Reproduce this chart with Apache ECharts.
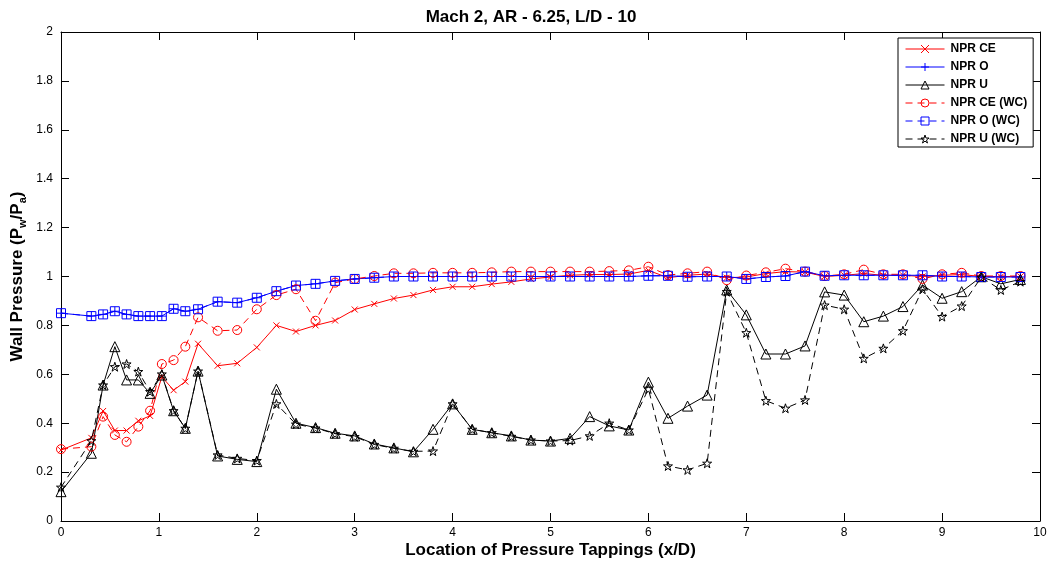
<!DOCTYPE html>
<html>
<head>
<meta charset="utf-8">
<title>Mach 2, AR - 6.25, L/D - 10</title>
<script src="https://cdn.jsdelivr.net/npm/echarts@6/dist/echarts.min.js"></script>
<style>
  html, body { margin: 0; padding: 0; background: #fff; }
  #chart { width: 1047px; height: 561px; }
</style>
</head>
<body>
<div id="chart"></div>
<script>
// Tapping locations along the wall (x/D)
const xPositions = [0, 0.31, 0.43, 0.55, 0.67, 0.79, 0.91, 1.03, 1.15, 1.27, 1.4,
  1.6, 1.8, 2.0, 2.2, 2.4, 2.6, 2.8, 3.0, 3.2, 3.4, 3.6, 3.8, 4.0, 4.2, 4.4,
  4.6, 4.8, 5.0, 5.2, 5.4, 5.6, 5.8, 6.0, 6.2, 6.4, 6.6, 6.8, 7.0, 7.2, 7.4,
  7.6, 7.8, 8.0, 8.2, 8.4, 8.6, 8.8, 9.0, 9.2, 9.4, 9.6, 9.8];

// Wall pressure ratio Pw/Pa at each tapping
const nprCE = [0.29, 0.34, 0.45, 0.37, 0.37, 0.41, 0.43, 0.59, 0.535, 0.57, 0.725,
  0.635, 0.645, 0.71, 0.80, 0.775, 0.80, 0.82, 0.865, 0.888, 0.91, 0.924, 0.945, 0.958, 0.958, 0.969,
  0.978, 0.99, 0.998, 1.005, 1.008, 1.008, 1.01, 1.025, 0.995, 1.005, 1.01, 0.995, 0.998, 1.012, 1.02,
  1.018, 1.0, 1.005, 1.012, 1.005, 1.005, 1.0, 1.005, 1.008, 1.0, 1.0, 1.0];

const nprO = [0.85, 0.838, 0.845, 0.858, 0.845, 0.838, 0.838, 0.838, 0.868, 0.858, 0.866,
  0.897, 0.893, 0.913, 0.94, 0.963, 0.97, 0.982, 0.99, 0.995, 1.0, 1.0, 1.0, 1.0, 1.0, 1.0,
  1.0, 1.0, 1.0, 1.0, 1.0, 1.0, 1.0, 1.003, 1.003, 0.999, 1.0, 1.0, 0.99, 0.998, 1.002,
  1.02, 1.003, 1.005, 1.005, 1.005, 1.005, 1.005, 1.0, 1.0, 0.998, 0.998, 0.998];

const nprU = [0.12, 0.277, 0.556, 0.713, 0.577, 0.577, 0.522, 0.597, 0.451, 0.379, 0.613,
  0.266, 0.252, 0.243, 0.539, 0.40, 0.382, 0.359, 0.348, 0.315, 0.299, 0.283, 0.375, 0.479, 0.375, 0.361,
  0.348, 0.331, 0.327, 0.338, 0.427, 0.389, 0.372, 0.568, 0.42, 0.47, 0.515, 0.945, 0.843, 0.683, 0.683,
  0.716, 0.937, 0.924, 0.815, 0.838, 0.877, 0.965, 0.911, 0.938, 0.999, 0.97, 0.988];

const nprCEwc = [0.294, 0.304, 0.427, 0.352, 0.324, 0.386, 0.451, 0.642, 0.658, 0.713, 0.833,
  0.778, 0.781, 0.866, 0.924, 0.948, 0.819, 0.975, 0.99, 1.002, 1.013, 1.013, 1.015, 1.015, 1.015, 1.017,
  1.02, 1.02, 1.02, 1.02, 1.02, 1.022, 1.025, 1.04, 1.006, 1.013, 1.02, 0.985, 1.004, 1.017, 1.032,
  1.02, 1.002, 1.009, 1.028, 1.009, 1.009, 0.99, 1.009, 1.015, 1.002, 1.002, 1.002];

const nprOwc = [0.85, 0.838, 0.845, 0.858, 0.845, 0.838, 0.838, 0.838, 0.868, 0.858, 0.866,
  0.897, 0.893, 0.913, 0.94, 0.963, 0.97, 0.982, 0.99, 0.995, 1.0, 1.0, 1.0, 1.0, 1.0, 1.0,
  1.0, 1.0, 1.0, 1.0, 1.0, 1.0, 1.0, 1.003, 1.003, 0.999, 1.0, 1.0, 0.99, 0.998, 1.002,
  1.02, 1.003, 1.005, 1.005, 1.005, 1.005, 1.005, 1.0, 1.0, 0.998, 0.998, 0.998];

const nprUwc = [0.138, 0.328, 0.556, 0.631, 0.642, 0.611, 0.529, 0.601, 0.451, 0.379, 0.613,
  0.27, 0.256, 0.247, 0.479, 0.396, 0.38, 0.357, 0.345, 0.313, 0.297, 0.285, 0.286, 0.479, 0.375, 0.361,
  0.346, 0.331, 0.327, 0.329, 0.348, 0.40, 0.372, 0.54, 0.225, 0.209, 0.236, 0.938, 0.77, 0.492, 0.461,
  0.495, 0.883, 0.866, 0.665, 0.706, 0.778, 0.948, 0.836, 0.879, 0.997, 0.945, 0.979];

const xTicks = { min: 0, max: 10, interval: 1 };
const yTicks = { min: 0, max: 2, interval: 0.2 };

const FONT = '"Liberation Sans", Arial, Helvetica, sans-serif';

// Hollow marker outlines
const MARK = {
  cross: 'path://M0,0L10,10M10,0L0,10',
  plus: 'path://M5,0L5,10M0,5L10,5',
  triangle: 'path://M5,0L10,9L0,9Z',
  circle: 'path://M10,5A5,5 0 1,1 0,5A5,5 0 1,1 10,5Z',
  square: 'path://M0,0L10,0L10,10L0,10Z',
  star: 'path://M5,0L6.2,3.6L10,3.6L6.9,5.9L8.1,9.5L5,7.3L1.9,9.5L3.1,5.9L0,3.6L3.8,3.6Z'
};

const CLEAR = 'rgba(0,0,0,0)';

function makeSeries(name, values, color, symbol, size, dashed) {
  return {
    name: name,
    type: 'line',
    data: xPositions.map((x, i) => [x, values[i]]),
    symbol: MARK[symbol],
    symbolSize: size,
    showAllSymbol: true,
    color: color,
    lineStyle: { color: color, width: 1, type: dashed ? [7, 5] : 'solid' },
    itemStyle: { color: CLEAR, borderColor: color, borderWidth: 1 },
    emphasis: { disabled: true },
    animation: false,
    z: 3
  };
}

const series = [
  makeSeries('NPR CE', nprCE, '#ff0000', 'cross', 6, false),
  makeSeries('NPR O', nprO, '#0000ff', 'plus', 9, false),
  makeSeries('NPR U', nprU, '#000000', 'triangle', 10, false),
  makeSeries('NPR CE (WC)', nprCEwc, '#ff0000', 'circle', 9, true),
  makeSeries('NPR O (WC)', nprOwc, '#0000ff', 'square', 9, true),
  makeSeries('NPR U (WC)', nprUwc, '#000000', 'star', 9, true)
];

// Legend entries: thin line with a hollow marker
const legendData = series.map(s => ({
  name: s.name,
  itemStyle: { color: CLEAR, borderColor: s.color, borderWidth: 1 },
  lineStyle: { color: s.color, width: 1, type: s.lineStyle.type }
}));

const axisCommon = {
  axisLine: { show: true, onZero: false, lineStyle: { color: '#000', width: 1 } },
  axisTick: { show: true, inside: true, length: 8, lineStyle: { color: '#000' } },
  splitLine: { show: false }
};

const chart = echarts.init(document.getElementById('chart'), null, { renderer: 'canvas' });
chart.setOption({
  animation: false,
  backgroundColor: '#fff',
  title: {
    text: 'Mach 2, AR - 6.25, L/D - 10',
    left: 526,
    top: 4,
    textAlign: 'center',
    textStyle: { fontFamily: FONT, fontSize: 17, fontWeight: 'bold', color: '#000' }
  },
  grid: { left: 61, right: 7, top: 32, bottom: 40, containLabel: false, outerBoundsMode: 'none' },
  legend: {
    orient: 'vertical',
    left: 898,
    top: 38,
    padding: [4, 6, 1, 7],
    itemWidth: 39,
    itemHeight: 10,
    itemGap: 4,
    backgroundColor: '#fff',
    borderColor: '#000',
    borderWidth: 1,
    borderRadius: 0,
    lineStyle: { width: 1 },
    textStyle: { fontFamily: FONT, fontSize: 12, fontWeight: 'bold', color: '#000', padding: [0, 0, 0, 1], lineHeight: 14 },
    data: legendData
  },
  xAxis: [
    Object.assign({
      type: 'value', min: xTicks.min, max: xTicks.max, interval: xTicks.interval,
      position: 'bottom',
      name: 'Location of Pressure Tappings (x/D)',
      nameLocation: 'middle', nameGap: 21, nameMoveOverlap: false,
      nameTextStyle: { fontFamily: FONT, fontSize: 17, fontWeight: 'bold', color: '#000', verticalAlign: 'top' },
      axisLabel: { fontFamily: FONT, fontSize: 12, color: '#000', margin: 6 }
    }, axisCommon),
    Object.assign({
      type: 'value', min: xTicks.min, max: xTicks.max, interval: xTicks.interval,
      position: 'top', axisLabel: { show: false }
    }, axisCommon)
  ],
  yAxis: [
    Object.assign({
      type: 'value', min: yTicks.min, max: yTicks.max, interval: yTicks.interval,
      position: 'left',
      name: 'Wall Pressure (P{s|w}/P{s|a})',
      nameLocation: 'middle', nameGap: 33, nameMoveOverlap: false,
      nameTextStyle: {
        fontFamily: FONT, fontSize: 17, fontWeight: 'bold', color: '#000',
        rich: { s: { fontFamily: FONT, fontSize: 11, fontWeight: 'bold', color: '#000', padding: [11, 0, 0, 0] } }
      },
      axisLabel: { fontFamily: FONT, fontSize: 12, color: '#000', margin: 8,
        formatter: v => String(Math.round(v * 10) / 10) }
    }, axisCommon),
    Object.assign({
      type: 'value', min: yTicks.min, max: yTicks.max, interval: yTicks.interval,
      position: 'right', axisLabel: { show: false }
    }, axisCommon)
  ],
  series: series
});
</script>
</body>
</html>
